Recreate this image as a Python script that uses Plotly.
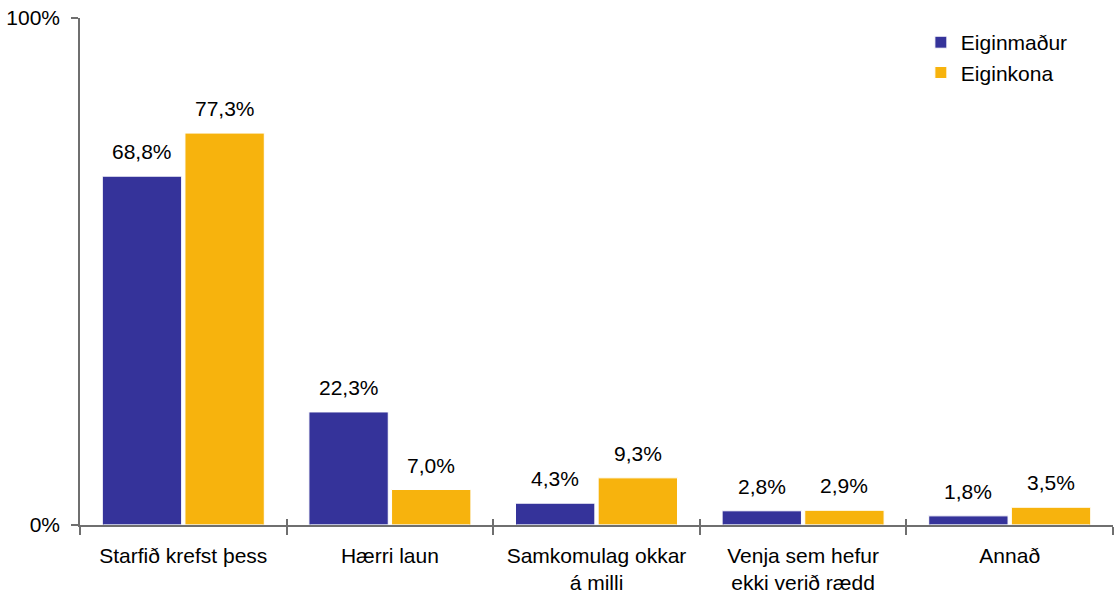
import plotly.graph_objects as go

# Survey answers (percent) per reason, for husbands and wives
categories = [
    "Starfið krefst þess",
    "Hærri laun",
    "Samkomulag okkar<br>á milli",
    "Venja sem hefur<br>ekki verið rædd",
    "Annað",
]
husband = [68.8, 22.3, 4.3, 2.8, 1.8]
wife = [77.3, 7.0, 9.3, 2.9, 3.5]
series_names = ["Eiginmaður", "Eiginkona"]
y_tick_vals = [0, 100]
y_tick_text = ["0%", "100%"]

BLUE = "#35339A"
ORANGE = "#F7B30D"
AXIS = "#6f6f6f"
FONT = "Liberation Sans, Arial, sans-serif"
FS = 21

fig = go.Figure()
for name, vals, col in [(series_names[0], husband, BLUE), (series_names[1], wife, ORANGE)]:
    fig.add_trace(go.Bar(
        x=categories, y=vals, name=name,
        marker=dict(color=col, line=dict(color="white", width=1)),
        hoverinfo="skip",
    ))

# value labels above each bar (comma decimal separator)
W = 1115 - 80 - 2
slot = W / len(categories) * (1 - 0.2) / 2
annotations = []
for vals, shift in [(husband, -slot / 2), (wife, slot / 2)]:
    for cat, v in zip(categories, vals):
        annotations.append(dict(
            x=cat, y=v, xref="x", yref="y",
            text=f"{v:.1f}%".replace(".", ","),
            showarrow=False, yanchor="bottom", xshift=shift, yshift=11,
            font=dict(family=FONT, size=FS, color="#000000"),
        ))

fig.update_layout(
    width=1115, height=593,
    margin=dict(l=80, r=2, t=18, b=68, autoexpand=False),
    paper_bgcolor="white", plot_bgcolor="white",
    font=dict(family=FONT, size=FS, color="#000000"),
    barmode="group", bargap=0.2, bargroupgap=0.04,
    showlegend=True,
    legend=dict(
        x=0.814, y=0.992, xanchor="left", yanchor="top",
        font=dict(family=FONT, size=FS, color="#000000"),
        bgcolor="rgba(0,0,0,0)", tracegroupgap=0, itemclick=False,
    ),
    annotations=annotations,
    xaxis=dict(
        type="category", showgrid=False, zeroline=False, automargin=False,
        showline=True, linecolor=AXIS, linewidth=1.5,
        ticks="outside", tickson="boundaries", ticklen=8, tickcolor=AXIS, tickwidth=1.5,
        ticklabelstandoff=11,
        tickfont=dict(family=FONT, size=FS, color="#000000"),
        fixedrange=True,
    ),
    xaxis2=dict(
        overlaying="x", matches="x", type="category", side="bottom",
        showgrid=False, zeroline=False, showline=False, automargin=False,
        ticks="inside", tickson="boundaries", ticklen=6, tickcolor=AXIS, tickwidth=1.5,
        showticklabels=False, categoryarray=categories, categoryorder="array",
    ),
    yaxis=dict(
        range=[0, 100], tickvals=y_tick_vals, ticktext=y_tick_text,
        showgrid=False, zeroline=False, automargin=False,
        showline=True, linecolor=AXIS, linewidth=1.5,
        ticks="outside", ticklen=7, tickcolor=AXIS, tickwidth=1.5,
        ticklabelstandoff=7,
        tickfont=dict(family=FONT, size=FS, color="#000000"),
        fixedrange=True,
    ),
)
# invisible trace to carry the inner tick marks on the overlay axis
fig.add_trace(go.Bar(x=categories, y=[0] * len(categories), xaxis="x2",
                     showlegend=False, hoverinfo="skip", marker=dict(color="rgba(0,0,0,0)")))

fig.write_html("out.html")
